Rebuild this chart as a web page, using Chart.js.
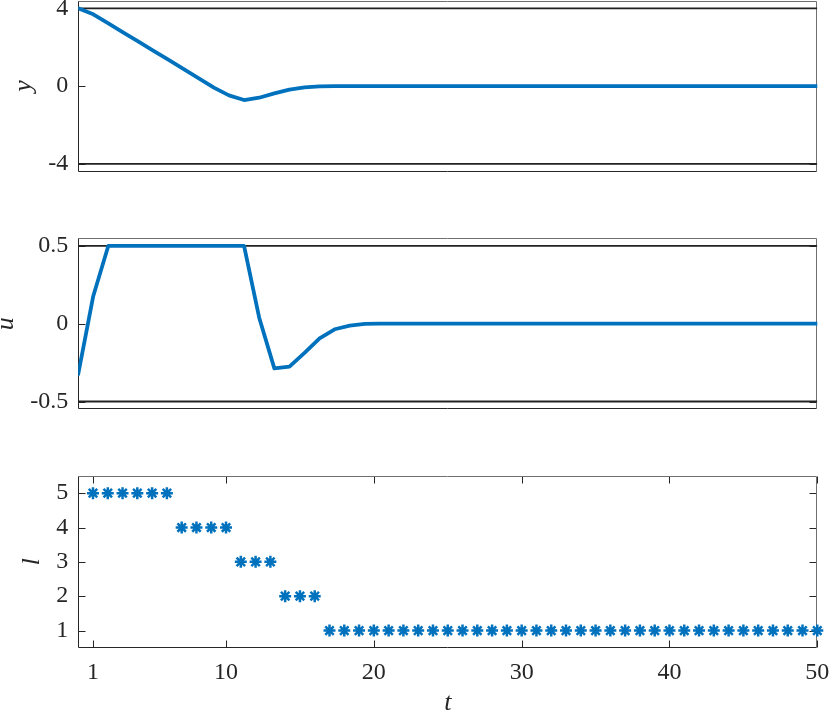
<!DOCTYPE html>
<html><head><meta charset="utf-8">
<script src="https://cdn.jsdelivr.net/npm/chart.js@4.4.1/dist/chart.umd.min.js"></script>
<style>
html,body{margin:0;padding:0;background:#fff;width:830px;height:714px;overflow:hidden}
canvas{position:absolute;left:0}
</style></head><body>
<canvas id="c1" width="830" height="200" style="top:0px"></canvas>
<canvas id="c2" width="830" height="200" style="top:220px"></canvas>
<canvas id="c3" width="830" height="274" style="top:440px"></canvas>
<script>
// ---- data ----
const tLine = [0,1.02,2.04,3.06,4.08,5.10,6.12,7.14,8.16,9.18,10.20,11.22,12.24,13.27,14.29,15.31,16.33,17.35,18.37,19.39,20.41,21.43,22.45,23.47,24.49,25.51,26.53,27.55,28.57,29.59,30.61,31.63,32.65,33.67,34.69,35.71,36.73,37.76,38.78,39.80,40.82,41.84,42.86,43.88,44.90,45.92,46.94,47.96,48.98,50];
const yValues = [4.00,3.69,3.22,2.75,2.28,1.81,1.34,0.87,0.40,-0.08,-0.48,-0.72,-0.60,-0.38,-0.18,-0.07,-0.02,-0.005,0,0,0,0,0,0,0,0,0,0,0,0,0,0,0,0,0,0,0,0,0,0,0,0,0,0,0,0,0,0,0,0];
const uValues = [-0.325,0.178,0.5,0.5,0.5,0.5,0.5,0.5,0.5,0.5,0.5,0.5,0.04,-0.287,-0.276,-0.188,-0.094,-0.036,-0.013,-0.002,0,0,0,0,0,0,0,0,0,0,0,0,0,0,0,0,0,0,0,0,0,0,0,0,0,0,0,0,0,0];
const tStep = [1,2,3,4,5,6,7,8,9,10,11,12,13,14,15,16,17,18,19,20,21,22,23,24,25,26,27,28,29,30,31,32,33,34,35,36,37,38,39,40,41,42,43,44,45,46,47,48,49,50];
const lValues = [5,5,5,5,5,5,4,4,4,4,3,3,3,2,2,2,1,1,1,1,1,1,1,1,1,1,1,1,1,1,1,1,1,1,1,1,1,1,1,1,1,1,1,1,1,1,1,1,1,1];
const yBounds = [-4, 4];
const uBounds = [-0.5, 0.5];
const yTicks = [-4, 0, 4];
const yTickLabels = ['-4', '0', '4'];
const uTicks = [-0.5, 0, 0.5];
const uTickLabels = ['-0.5', '0', '0.5'];
const lTicks = [1, 2, 3, 4, 5];
const lTickLabels = ['1', '2', '3', '4', '5'];
const tTicks = [1, 10, 20, 30, 40, 50];
const tTickLabels = ['1', '10', '20', '30', '40', '50'];
const tRange = [0, 50];

// ---- style ----
const BLUE = '#0072BD';
const AX = '#262626';
const FONT = "'Liberation Serif', 'Times New Roman', serif";

const boxPlugin = {
  id: 'box',
  beforeDatasetsDraw(chart, args, opts) {
    const {ctx, chartArea: a, scales} = chart;
    ctx.save();
    ctx.lineWidth = 1;
    ctx.strokeStyle = AX;
    const L = Math.round(a.left) + 0.5, R = Math.round(a.right) - 0.5;
    const T = Math.round(a.top) + 0.5, B = Math.round(a.bottom) - 0.5;
    const tl = 7;
    scales.y.ticks.forEach(t => {
      const p = Math.round(scales.y.getPixelForValue(t.value)) + 0.5;
      ctx.beginPath();
      ctx.moveTo(L, p); ctx.lineTo(L + tl, p);
      ctx.moveTo(R, p); ctx.lineTo(R - tl, p);
      ctx.stroke();
    });
    if (opts.xTicks) {
      scales.x.ticks.forEach(t => {
        const p = Math.round(scales.x.getPixelForValue(t.value)) + 0.5;
        ctx.beginPath();
        ctx.moveTo(p, B); ctx.lineTo(p, B - tl);
        ctx.moveTo(p, T); ctx.lineTo(p, T + tl);
        ctx.stroke();
      });
    }
    ctx.strokeStyle = '#707070';
    ctx.beginPath();
    ctx.moveTo(L, T); ctx.lineTo(R, T); ctx.lineTo(R, B);
    ctx.stroke();
    ctx.strokeStyle = AX;
    ctx.beginPath();
    ctx.moveTo(R, B); ctx.lineTo(L, B); ctx.lineTo(L, T);
    ctx.stroke();
    ctx.restore();
  }
};

function yScale(min, max, ticks, labels, title, titlePad) {
  return {
    type: 'linear', position: 'left', min: min, max: max,
    grid: {display: false, drawTicks: false},
    border: {display: false},
    afterBuildTicks: s => { s.ticks = ticks.map(v => ({value: v})); },
    afterFit: s => { s.width = 78.2; s.paddingTop = 0; s.paddingBottom = 0; },
    ticks: {
      padding: 10, color: AX, font: {family: FONT, size: 24},
      callback: (v) => { const i = ticks.indexOf(v); return i >= 0 ? labels[i] : ''; }
    },
    title: {display: true, text: title, color: AX,
      font: {family: FONT, size: 26, style: 'italic', lineHeight: 1},
      padding: {top: titlePad, bottom: 0}}
  };
}

function boundSets(bounds) {
  return bounds.map(b => ({
    data: [{x: tRange[0], y: b}, {x: tRange[1], y: b}],
    borderColor: '#222222', borderWidth: 1.8, pointRadius: 0, order: 2
  }));
}

function lineChart(id, vals, bounds, ymin, ymax, ticks, labels, title, titlePad, pad) {
  return new Chart(document.getElementById(id), {
    type: 'line',
    data: {datasets: [
      {data: tLine.map((t, i) => ({x: t, y: vals[i]})), borderColor: BLUE, borderWidth: 3.8,
       pointRadius: 0, order: 0, borderJoinStyle: 'round', borderCapStyle: 'round'},
      ...boundSets(bounds)
    ]},
    options: {
      responsive: false, animation: false, devicePixelRatio: 1,
      layout: {padding: pad},
      plugins: {legend: {display: false}, tooltip: {enabled: false}, box: {xTicks: false}},
      scales: {
        x: {type: 'linear', min: tRange[0], max: tRange[1], display: false},
        y: yScale(ymin, ymax, ticks, labels, title, titlePad)
      }
    },
    plugins: [boxPlugin]
  });
}

lineChart('c1', yValues, yBounds, -4.4, 4.4, yTicks, yTickLabels, 'y', 11,
  {top: 0.5, right: 12.7, bottom: 28.4, left: 0});
lineChart('c2', uValues, uBounds, -0.55, 0.55, uTicks, uTickLabels, 'u', -7,
  {top: 18, right: 12.7, bottom: 10.7, left: 0});

new Chart(document.getElementById('c3'), {
  type: 'scatter',
  data: {datasets: [{
    data: tStep.map((t, i) => ({x: t, y: lValues[i]})),
    showLine: false, pointStyle: 'star', pointRadius: 6, borderWidth: 2.5,
    borderColor: BLUE, backgroundColor: BLUE, clip: false
  }]},
  options: {
    responsive: false, animation: false, devicePixelRatio: 1,
    layout: {padding: {top: 36, right: 12.7, bottom: 0, left: 0}},
    plugins: {legend: {display: false}, tooltip: {enabled: false}, box: {xTicks: true}},
    scales: {
      x: {
        type: 'linear', position: 'bottom', min: tRange[0], max: tRange[1],
        grid: {display: false, drawTicks: false}, border: {display: false},
        afterBuildTicks: s => { s.ticks = tTicks.map(v => ({value: v})); },
        afterFit: s => { s.height = 66.3; s.paddingLeft = 0; s.paddingRight = 0; },
        ticks: {padding: 11, color: AX, autoSkip: false, maxRotation: 0,
          font: {family: FONT, size: 24},
          callback: (v) => { const i = tTicks.indexOf(v); return i >= 0 ? tTickLabels[i] : ''; }},
        title: {display: true, text: 't', color: AX,
          font: {family: FONT, size: 26, style: 'italic', lineHeight: 1},
          padding: {top: 0, bottom: -2.5}}
      },
      y: yScale(0.5, 5.5, lTicks, lTickLabels, 'l', 19)
    }
  },
  plugins: [boxPlugin]
});
</script>
</body></html>
